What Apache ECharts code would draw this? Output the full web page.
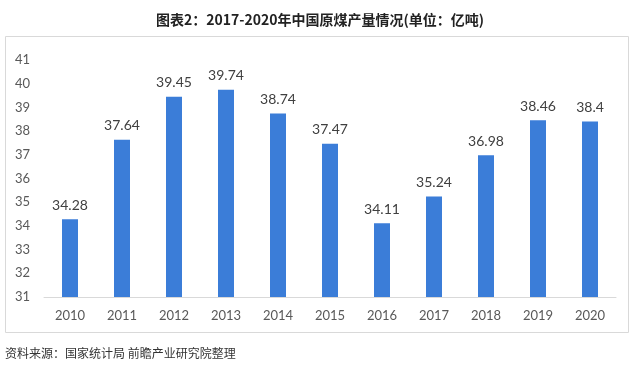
<!DOCTYPE html>
<html>
<head>
<meta charset="utf-8">
<script src="https://cdn.jsdelivr.net/npm/echarts@6/dist/echarts.min.js"></script>
<style>
  html, body { margin: 0; padding: 0; background: #fff; }
  #chart { width: 640px; height: 376px; }
</style>
</head>
<body>
<div id="chart"></div>
<script>
var years = ['2010', '2011', '2012', '2013', '2014', '2015', '2016', '2017', '2018', '2019', '2020']
var output = [34.28, 37.64, 39.45, 39.74, 38.74, 37.47, 34.11, 35.24, 36.98, 38.46, 38.4]
var yTicks = { min: 31, max: 41, interval: 1 }

var chart = echarts.init(document.getElementById('chart'))

chart.setOption({
  animation: false,
  textStyle: { fontFamily: 'Lato, "Noto Sans CJK SC", sans-serif' },
  title: {
    text: '图表2：2017-2020年中国原煤产量情况(单位：亿吨)',
    left: 'center',
    top: 8,
    textStyle: {
      color: '#222',
      fontSize: 14,
      fontWeight: 'bold',
      fontFamily: '"Noto Sans CJK SC", sans-serif'
    }
  },
  graphic: [
    {
      type: 'rect',
      shape: { x: 5.5, y: 36.5, width: 623, height: 296 },
      style: { fill: 'none', stroke: '#d9d9d9', lineWidth: 1 },
      z: -1
    },
    {
      type: 'text',
      left: 5,
      top: 347,
      style: {
        text: '资料来源：国家统计局 前瞻产业研究院整理',
        fill: '#333',
        fontSize: 12,
        fontFamily: '"Noto Sans CJK SC", sans-serif'
      }
    }
  ],
  grid: { left: 44, right: 24, top: 60, bottom: 79 },
  xAxis: {
    type: 'category',
    data: years,
    axisLine: { lineStyle: { color: '#d9d9d9' } },
    axisTick: { show: false },
    axisLabel: { color: '#595959', fontSize: 13, margin: 12 }
  },
  yAxis: {
    type: 'value',
    min: yTicks.min,
    max: yTicks.max,
    interval: yTicks.interval,
    splitLine: { show: false },
    axisLine: { show: false },
    axisTick: { show: false },
    axisLabel: { color: '#595959', fontSize: 13, margin: 14 }
  },
  series: [
    {
      type: 'bar',
      data: output,
      barWidth: 16,
      itemStyle: { color: '#3b7dd8' },
      label: {
        show: true,
        position: 'top',
        distance: 7,
        color: '#404040',
        fontSize: 14
      }
    }
  ]
})
</script>
</body>
</html>
